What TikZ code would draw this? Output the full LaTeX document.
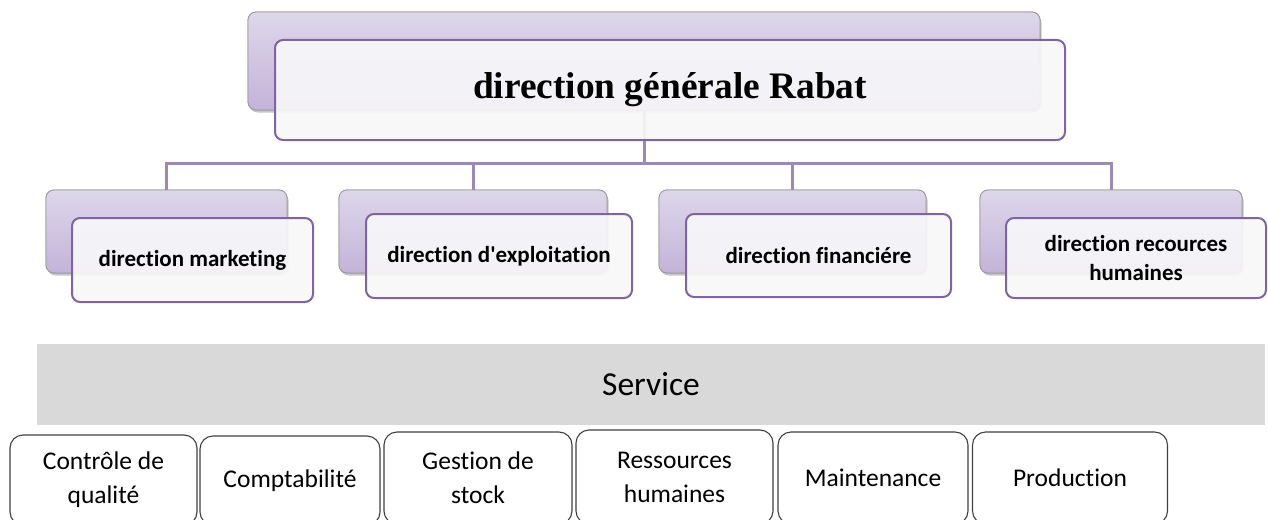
\documentclass[tikz,border=0pt]{standalone}
\usepackage{fontspec}
\setmainfont{Liberation Serif}
\newfontfamily\calfont[Ligatures=NoCommon]{Carlito}
\usetikzlibrary{shadows,backgrounds}
\definecolor{conncol}{HTML}{9C89B8}
\definecolor{frontcol}{HTML}{8064A2}
\definecolor{backtop}{HTML}{DED7EA}
\definecolor{backbot}{HTML}{C3B3D9}
\definecolor{frontfill}{HTML}{F7F7F9}
\definecolor{bandcol}{HTML}{D9D9D9}
\definecolor{svcline}{HTML}{404040}
\tikzset{
  backbox/.style={rectangle, rounded corners=8pt, draw=gray!80, line width=0.8pt,
    top color=backtop, bottom color=backbot,
    drop shadow={shadow xshift=1.5pt, shadow yshift=-2.5pt, opacity=0.25}},
  frontbox/.style={rectangle, rounded corners=8pt, draw=frontcol, line width=2pt,
    fill=frontfill, fill opacity=0.92, text opacity=1, align=center},
  conn/.style={draw=conncol, line width=3pt},
  svcbox/.style={rectangle, rounded corners=13pt, draw=svcline, line width=1.1pt,
    fill=white, align=center, font=\calfont\fontsize{25.5}{34}\selectfont},
  midtext/.style={font=\calfont\bfseries\fontsize{23}{29}\selectfont},
}
\begin{document}
\begin{tikzpicture}[x=1pt,y=-1pt]
\useasboundingbox (0,0) rectangle (1268,519);
\clip (0,0) rectangle (1268,519);
% top
\node[backbox, minimum width=792pt, minimum height=98pt] (gb) at (644,61) {};
% mid back boxes
\node[backbox, minimum width=241pt, minimum height=83pt] (b1) at (166.5,231.5) {};
\node[backbox, minimum width=268pt, minimum height=83pt] (b2) at (473,231.5) {};
\node[backbox, minimum width=267pt, minimum height=83pt] (b3) at (792.5,231.5) {};
\node[backbox, minimum width=262pt, minimum height=83pt] (b4) at (1111,231.5) {};
% connectors
\coordinate (bus) at (645,163);
\draw[conn] (gb.south) -- (gb.south |- bus);
\draw[conn] (b1.north) -- (b1.north |- bus) -- (b4.north |- bus) -- (b4.north);
\draw[conn] (b2.north) -- (b2.north |- bus);
\draw[conn] (b3.north) -- (b3.north |- bus);
% redraw back boxes over connector ends
\node[backbox, minimum width=792pt, minimum height=98pt] at (644,61) {};
\node[backbox, minimum width=241pt, minimum height=83pt] at (166.5,231.5) {};
\node[backbox, minimum width=268pt, minimum height=83pt] at (473,231.5) {};
\node[backbox, minimum width=267pt, minimum height=83pt] at (792.5,231.5) {};
\node[backbox, minimum width=262pt, minimum height=83pt] at (1111,231.5) {};
% front boxes
\node[frontbox, minimum width=790pt, minimum height=100pt, font=\bfseries\fontsize{37.4}{40}\selectfont] (gf) at (670,90) {direction générale Rabat};
\node[frontbox, midtext, minimum width=241pt, minimum height=84pt] (f1) at (192.5,260) {direction marketing};
\node[frontbox, midtext, minimum width=266pt, minimum height=84pt] (f2) at (499,256) {direction d'exploitation};
\node[frontbox, midtext, minimum width=265pt, minimum height=83pt] (f3) at (818.5,255.5) {direction financiére};
\node[frontbox, midtext, minimum width=260pt, minimum height=80pt] (f4) at (1136,258) {direction recources\\humaines};
% service band
\node[rectangle, fill=bandcol, minimum width=1228pt, minimum height=81pt, font=\calfont\fontsize{33.5}{36}\selectfont] (svc) at (651,384.5) {Service};
% service boxes
\node[svcbox, minimum width=187pt, minimum height=90pt] (s1) at (103.5,480) {Contrôle de\\qualité};
\node[svcbox, minimum width=180pt, minimum height=89pt] (s2) at (290,480.5) {Comptabilité};
\node[svcbox, minimum width=188pt, minimum height=92pt] (s3) at (478,478) {Gestion de\\stock};
\node[svcbox, minimum width=197pt, minimum height=94pt] (s4) at (674.5,477) {Ressources\\humaines};
\node[svcbox, minimum width=190pt, minimum height=92pt] (s5) at (873,478) {Maintenance};
\node[svcbox, minimum width=195pt, minimum height=92pt] (s6) at (1070,478) {Production};
\end{tikzpicture}
\end{document}
